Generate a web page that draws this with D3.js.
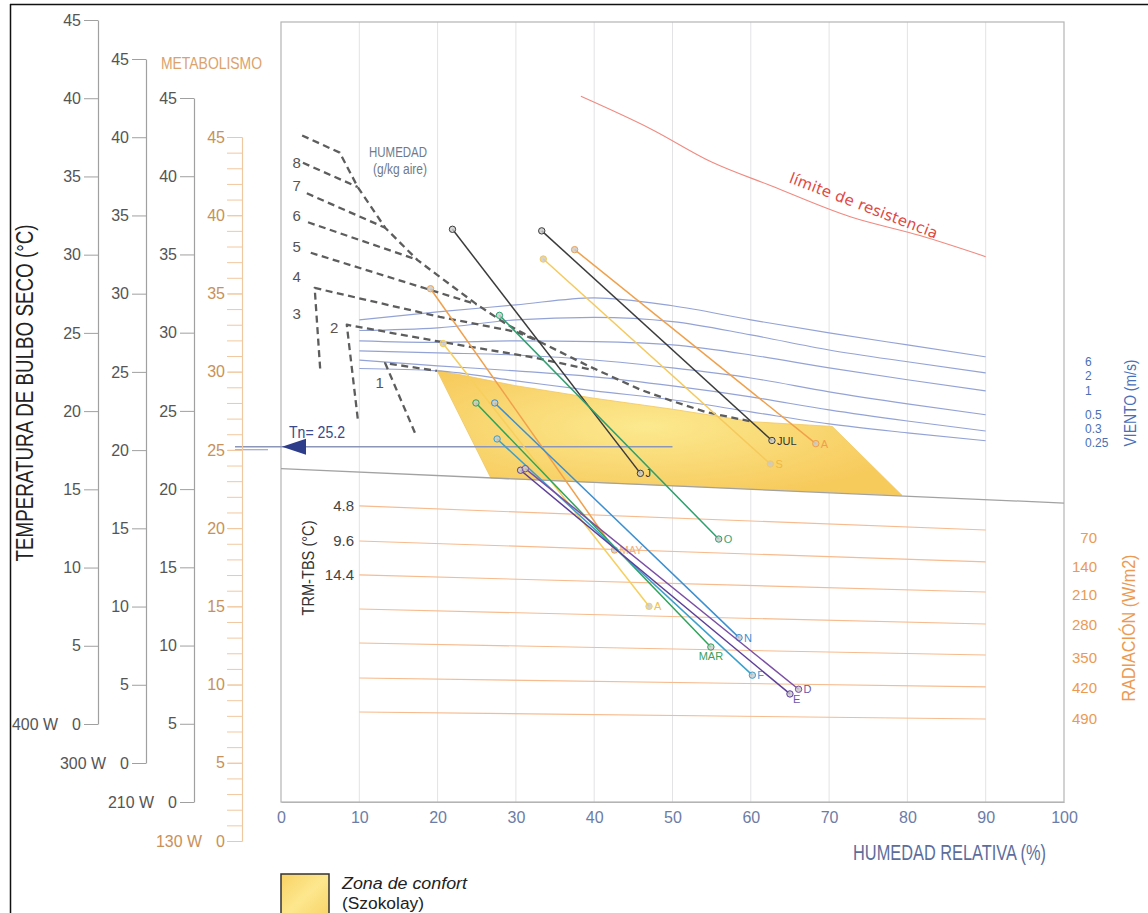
<!DOCTYPE html>
<html><head><meta charset="utf-8">
<script src="https://cdn.jsdelivr.net/npm/d3@7"></script>
<style>
body{margin:0;background:#fff;}
svg{display:block;font-family:"Liberation Sans",Arial,sans-serif;}
</style></head><body>
<svg id="c" width="1148" height="913"></svg>
<script>
// ---------------- DATA ----------------
const rhTicks = [0,10,20,30,40,50,60,70,80,90,100];
const tempTicks = [0,5,10,15,20,25,30,35,40,45];
const metabolicLevels = ["400 W","300 W","210 W","130 W"];

// comfort zone (Szokolay) polygon: RH %, T °C
const comfortRH = [19.9,30.0,40.0,50.0,60.2,70.4,79.3,26.8];
const comfortT  = [30.1,29.1,28.3,27.6,26.8,26.5,22.1,23.2];

// separator line (wind / radiation)
const sepRH = [0,100];
const sepT  = [23.8,21.6];

// neutral temperature
const tn = 25.2;

// wind lines (m/s)
const windLabels = ["6","2","1","0.5","0.3","0.25"];
const windRH = [10,20,30,40,50,60,70,80,90];
const wind6   = [33.31,33.82,34.27,34.72,34.21,33.31,32.48,31.71,30.95];
const wind2   = [32.63,32.80,33.31,33.47,33.20,32.35,31.39,30.63,29.92];
const wind1   = [31.97,31.87,31.97,31.92,31.71,31.07,30.24,29.48,28.77];
const wind05  = [31.33,31.20,31.07,30.75,30.24,29.60,28.71,27.94,27.24];
const wind03  = [30.74,30.37,30.05,29.67,29.09,28.39,27.56,26.85,26.21];
const wind025 = [30.20,30.05,29.41,28.77,28.20,27.43,26.66,26.09,25.58];
const windLabelT = [30.62,29.70,28.74,27.24,26.34,25.45];

// radiation lines (W/m2)
const radLabels = ["70","140","210","280","350","420","490"];
const radRH = [10,90];
const radStartT = [21.42,19.18,17.01,14.83,12.66,10.42,8.25];
const radEndT   = [19.88,17.84,15.92,13.87,11.89,9.85,7.80];
const radLabelT = [19.37,17.52,15.73,13.87,11.70,9.78,7.80];
const trmLabels = ["4.8","9.6","14.4"];

// humidity lines (g/kg aire), dashed: [RH, T]
const humEnvelope = [[2.7,45.1],[7.5,44.0],[9.8,41.8],[13.3,39.2],[17.4,37.15],[19.9,36.2],[25.0,34.3],[28.9,33.0],[33.1,31.9],[39.1,30.4],[45.9,28.85],[50.1,28.1],[54.4,27.4],[60.2,26.8]];
const hum8 = [[2.8,43.35],[9.8,41.8]];
const hum7 = [[3.3,41.4],[13.3,39.2]];
const hum6 = [[3.45,39.55],[17.4,37.15]];
const hum5 = [[3.8,37.6],[25.0,34.3]];
const hum4 = [[5.0,30.2],[4.3,35.35],[20.3,33.5],[30.0,32.55],[33.1,31.9]];
const hum2 = [[9.8,27.0],[8.4,33.0],[19.9,31.95],[31.8,30.95],[39.9,30.1]];
const hum1 = [[17.1,26.1],[13.3,30.55],[19.9,30.05]];
const humLabels = ["8","7","6","5","4","3","2","1"];
const humLabelRH = [2.0,2.0,2.0,2.0,2.0,2.0,6.8,12.6];
const humLabelT  = [43.4,41.9,40.0,38.0,36.1,33.7,32.8,29.3];

// limit of resistance
const limRH = [38.3,47.3,55.0,62.5,72.7,81.6,90.0];
const limT  = [47.6,45.5,43.4,41.9,39.9,38.7,37.35];

// monthly lines
const months  = ["JUL","J","A","S","MAY","A","O","MAR","N","F","E","D"];
const rhStart = [33.3,21.9,37.5,33.5,19.1,20.7,27.9,24.9,27.3,27.6,30.6,31.2];
const tStart  = [39.0,39.1,37.8,37.2,35.3,31.8,33.6,28.0,28.0,25.7,23.7,23.8];
const rhEnd   = [62.7,45.9,68.3,62.5,42.6,47.0,55.9,54.9,58.5,60.2,65.0,66.1];
const tEnd    = [25.6,23.5,25.4,24.1,18.6,15.0,19.3,12.4,13.0,10.6,9.4,9.7];

// ---------------- STYLE ----------------
const monthColor = ["#3b3b3b","#3b3b3b","#f0a04b","#f5c95c","#f0a04b","#f6cf5c","#2f9f6f","#2ea35a","#3c8fd1","#3aa0cc","#5c3f98","#7a4fa5"];
const monthLabelColor = ["#333","#333","#f0a04b","#f0b840","#f3b07a","#f2c04a","#3aa57a","#3aa060","#3c8fd1","#3c9fd0","#6a58a8","#6a58a8"];
const monthLabelPos = ["r","r","r","r","r","r","r","b","r","r","br","r"];

function fit(sel, len){ return sel.attr("textLength",len).attr("lengthAdjust","spacingAndGlyphs"); }

const svg = d3.select("#c");
const x = d3.scaleLinear().domain([0,100]).range([281,1064]);
const y = d3.scaleLinear().domain([0,45]).range([841,137]);
const PT = 22, PB = 802;

// outer border
svg.append("line").attr("x1",10).attr("x2",1148).attr("y1",4.5).attr("y2",4.5).attr("stroke","#111").attr("stroke-width",1.5);
svg.append("line").attr("x1",10.5).attr("x2",10.5).attr("y1",4).attr("y2",913).attr("stroke","#111").attr("stroke-width",1.5);

// grid
svg.append("g").selectAll("line").data(rhTicks.slice(1,-1)).join("line")
  .attr("x1",d=>x(d)).attr("x2",d=>x(d)).attr("y1",PT).attr("y2",PB)
  .attr("stroke","#e3e3e6").attr("stroke-width",1);
svg.append("rect").attr("x",x(0)).attr("y",PT).attr("width",x(100)-x(0)).attr("height",PB-PT)
  .attr("fill","none").attr("stroke","#b4b4b4").attr("stroke-width",1.2);

// comfort zone
const defs = svg.append("defs");
const rg = defs.append("radialGradient").attr("id","cz").attr("cx","45%").attr("cy","45%").attr("r","60%");
rg.append("stop").attr("offset","0%").attr("stop-color","#fce98f");
rg.append("stop").attr("offset","100%").attr("stop-color","#f7ca5c");
const lg = defs.append("linearGradient").attr("id","lz").attr("x1","0").attr("x2","1").attr("y1","0").attr("y2","1");
lg.append("stop").attr("offset","0%").attr("stop-color","#f8d264");
lg.append("stop").attr("offset","50%").attr("stop-color","#fde78e");
lg.append("stop").attr("offset","100%").attr("stop-color","#f8d264");
svg.append("path")
  .attr("d", d3.line()(comfortRH.map((r,i)=>[x(r),y(comfortT[i])])) + "Z")
  .attr("fill","url(#cz)").attr("stroke","#f3c65a").attr("stroke-width",0.8);

// radiation lines
const line = d3.line().x(d=>x(d[0])).y(d=>y(d[1]));
radStartT.forEach((t,i)=>{
  svg.append("path").attr("d",line([[radRH[0],t],[radRH[1],radEndT[i]]]))
    .attr("fill","none").attr("stroke","#f6bb8e").attr("stroke-width",1.1);
});
// separator
svg.append("path").attr("d",line(sepRH.map((r,i)=>[r,sepT[i]])))
  .attr("fill","none").attr("stroke","#a2a2a2").attr("stroke-width",1.3);

// wind lines
const curve = d3.line().x(d=>x(d[0])).y(d=>y(d[1])).curve(d3.curveMonotoneX);
[wind6,wind2,wind1,wind05,wind03,wind025].forEach(arr=>{
  svg.append("path").attr("d",curve(windRH.map((r,i)=>[r,arr[i]])))
    .attr("fill","none").attr("stroke","#94a3d6").attr("stroke-width",1.1);
});

// Tn line
svg.append("line").attr("x1",235).attr("x2",x(50)).attr("y1",y(tn)).attr("y2",y(tn))
  .attr("stroke","#8c96b8").attr("stroke-width",1.3);
svg.append("line").attr("x1",235).attr("x2",268).attr("y1",y(tn)+3).attr("y2",y(tn)+3)
  .attr("stroke","#8c96b8").attr("stroke-width",1);
svg.append("path")
  .attr("d",`M${x(0)+1},${y(tn)} L${x(0)+25},${y(tn)-8} L${x(0)+25},${y(tn)+8} Z`)
  .attr("fill","#2e3d8a");
fit(svg.append("text").attr("x",x(0)+8).attr("y",y(tn)-9).text("Tn= 25.2")
  .attr("fill","#3b4a88").attr("font-size",17), 56);

// humidity dashed lines
[humEnvelope,hum8,hum7,hum6,hum5,hum4,hum2,hum1].forEach(arr=>{
  svg.append("path").attr("d",line(arr)).attr("fill","none")
    .attr("stroke","#5d5d5d").attr("stroke-width",2.3).attr("stroke-dasharray","7,4.5")
    .attr("stroke-linejoin","round");
});
svg.append("g").selectAll("text").data(humLabels).join("text")
  .attr("x",(d,i)=>x(humLabelRH[i])).attr("y",(d,i)=>y(humLabelT[i]))
  .attr("text-anchor","middle").attr("dominant-baseline","central")
  .attr("font-size",15).attr("fill","#555").text(d=>d);
fit(svg.append("text").attr("x",369).attr("y",157)
  .attr("font-size",14).attr("fill","#6d7a8c").text("HUMEDAD"), 58);
fit(svg.append("text").attr("x",373).attr("y",174)
  .attr("font-size",14).attr("fill","#6d7a8c").text("(g/kg aire)"), 54);

// limit of resistance
svg.append("path").attr("d",curve(limRH.map((r,i)=>[r,limT[i]])))
  .attr("fill","none").attr("stroke","#f08a80").attr("stroke-width",1.1);
svg.append("text")
  .attr("transform",`translate(${x(74.2)},${y(40.3)}) rotate(21)`)
  .attr("text-anchor","middle").attr("font-size",15)
  .attr("font-family","'DejaVu Sans',sans-serif").attr("letter-spacing",0.3)
  .attr("fill","#e0493f").text("límite de resistencia");

// month lines
months.forEach((m,i)=>{
  const g = svg.append("g");
  g.append("line").attr("x1",x(rhStart[i])).attr("y1",y(tStart[i]))
    .attr("x2",x(rhEnd[i])).attr("y2",y(tEnd[i]))
    .attr("stroke",monthColor[i]).attr("stroke-width",1.5);
  [[rhStart[i],tStart[i]],[rhEnd[i],tEnd[i]]].forEach(p=>{
    g.append("circle").attr("cx",x(p[0])).attr("cy",y(p[1])).attr("r",3.2)
      .attr("fill","#c9c9c9").attr("fill-opacity",0.8)
      .attr("stroke",monthColor[i]).attr("stroke-width",1);
  });
  const pos = monthLabelPos[i];
  const tx = g.append("text").attr("font-size",11).attr("fill",monthLabelColor[i]).text(m);
  if(pos==="b"){
    tx.attr("x",x(rhEnd[i])).attr("y",y(tEnd[i])+13).attr("text-anchor","middle");
  } else if(pos==="br"){
    tx.attr("x",x(rhEnd[i])+3).attr("y",y(tEnd[i])+9);
  } else {
    tx.attr("x",x(rhEnd[i])+5).attr("y",y(tEnd[i])+4);
  }
});

// right labels: wind
svg.append("g").selectAll("text").data(windLabels).join("text")
  .attr("x",1085).attr("y",(d,i)=>y(windLabelT[i])).attr("dominant-baseline","central")
  .attr("font-size",12).attr("fill","#4a6fb5").text(d=>d);
fit(svg.append("text").attr("transform","translate(1136,403) rotate(-90)")
  .attr("text-anchor","middle").attr("font-size",17).attr("fill","#4a70b8").text("VIENTO (m/s)"), 87);
// right labels: radiation
svg.append("g").selectAll("text").data(radLabels).join("text")
  .attr("x",1097).attr("y",(d,i)=>y(radLabelT[i])).attr("text-anchor","end")
  .attr("dominant-baseline","central")
  .attr("font-size",15).attr("fill","#ec9a52").text(d=>d);
fit(svg.append("text").attr("transform","translate(1135,628) rotate(-90)")
  .attr("text-anchor","middle").attr("font-size",18).attr("fill","#ec9a52").text("RADIACIÓN (W/m2)"), 147);
// TRM-TBS labels
svg.append("g").selectAll("text").data(trmLabels).join("text")
  .attr("x",354).attr("y",(d,i)=>y(radStartT[i])).attr("text-anchor","end")
  .attr("dominant-baseline","central").attr("font-size",15).attr("fill","#444").text(d=>d);
fit(svg.append("text").attr("transform","translate(314,568) rotate(-90)")
  .attr("text-anchor","middle").attr("font-size",17).attr("fill","#333").text("TRM-TBS (°C)"), 95);

// x axis
const xa = svg.append("g").attr("transform",`translate(0,${PB})`)
  .call(d3.axisBottom(x).tickValues(rhTicks).tickSize(0).tickPadding(10));
xa.select(".domain").attr("stroke","#b4b4b4");
xa.selectAll("text").attr("font-size",16).attr("fill","#6c7ca6").attr("font-family",null);
fit(svg.append("text").attr("x",853).attr("y",860)
  .attr("font-size",22).attr("fill","#5c6d9c").text("HUMEDAD RELATIVA (%)"), 193);

// left metabolic temperature axes
const axLayout = [
  {x:98,  y0:724, color:"#555", line:"#a0a0a0", minor:false},
  {x:146, y0:763, color:"#555", line:"#a0a0a0", minor:false},
  {x:194, y0:802, color:"#555", line:"#a0a0a0", minor:false},
  {x:242, y0:841, color:"#c8915a", line:"#f0c8a0", minor:true}
];
axLayout.forEach((a,i)=>{
  const s = d3.scaleLinear().domain([0,45]).range([a.y0, a.y0 - (y(0)-y(45))]);
  if(a.minor){
    const gm = svg.append("g").attr("transform",`translate(${a.x},0)`)
      .call(d3.axisLeft(s).tickValues(d3.range(0,46,1)).tickSize(15).tickSizeOuter(0).tickFormat(""));
    gm.selectAll("line").attr("stroke",a.line);
    gm.select(".domain").attr("stroke",a.line);
  }
  const g = svg.append("g").attr("transform",`translate(${a.x},0)`)
    .call(d3.axisLeft(s).tickValues(tempTicks).tickSize(14).tickSizeOuter(0).tickPadding(3));
  g.select(".domain").attr("stroke",a.line).attr("stroke-width",1.2);
  g.selectAll("line").attr("stroke",a.line);
  g.selectAll("text").attr("font-size",16).attr("fill",a.color).attr("font-family",null);
  fit(svg.append("text").attr("x",a.x-86).attr("y",a.y0).attr("dominant-baseline","central")
    .attr("font-size",17).attr("fill",a.color).text(metabolicLevels[i]), 46);
});
fit(svg.append("text").attr("x",161).attr("y",69).attr("font-size",17).attr("fill","#dba26c").text("METABOLISMO"), 101);
fit(svg.append("text").attr("transform","translate(33,393) rotate(-90)")
  .attr("text-anchor","middle").attr("font-size",23).attr("fill","#222")
  .text("TEMPERATURA DE BULBO SECO  (°C)"), 337);

// legend
svg.append("rect").attr("x",281).attr("y",874).attr("width",48).attr("height",45)
  .attr("fill","url(#lz)").attr("stroke","#333").attr("stroke-width",1.5);
fit(svg.append("text").attr("x",342).attr("y",889).attr("font-size",16).attr("font-style","italic")
  .attr("fill","#222").text("Zona de confort"), 125);
fit(svg.append("text").attr("x",342).attr("y",909).attr("font-size",16).attr("fill","#222").text("(Szokolay)"), 82);
</script>
</body></html>
